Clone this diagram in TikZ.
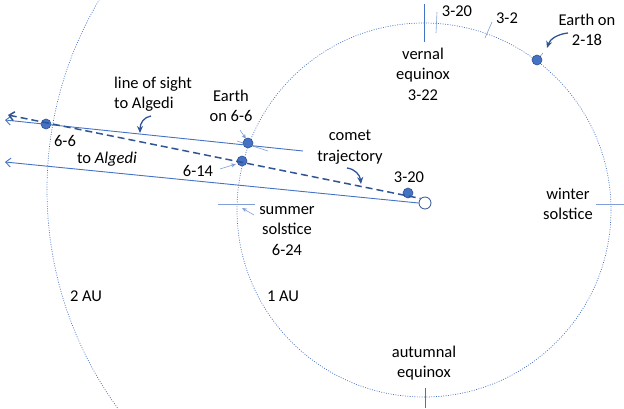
\documentclass[tikz,border=0pt]{standalone}
\usepackage{fontspec}
\setmainfont{Carlito}
\usetikzlibrary{arrows.meta}
\definecolor{mblue}{HTML}{4472C4}
\definecolor{dblue}{HTML}{2F5597}
\definecolor{lblue}{HTML}{7F9FD6}
\definecolor{dotedge}{HTML}{2F528F}
\begin{document}
\begin{tikzpicture}[x=1pt,y=-1pt,
 lbl/.style={font=\fontsize{16.5}{20.5}\selectfont, align=center, inner sep=0pt, text=black},
 orbit/.style={mblue, line width=0.7pt, dash pattern=on 0.9pt off 1.5pt},
 body/.style={circle, fill=mblue, draw=dotedge, line width=0.6pt, minimum size=10pt, inner sep=0pt},
 sunbody/.style={circle, fill=white, draw=dotedge, line width=0.8pt, minimum size=12pt, inner sep=0pt},
 sight/.style={mblue, line width=0.9pt},
 cometline/.style={dblue, line width=1.5pt, dash pattern=on 7pt off 4pt},
 faint/.style={lblue, line width=0.6pt},
 marktick/.style={mblue, line width=0.9pt},
 pointer/.style={lblue, line width=0.6pt, -{Stealth[length=5pt,width=4pt]}},
 curvy/.style={dblue, line width=1.3pt, -{Stealth[length=7pt,width=6pt]}},
 barb/.style={{Straight Barb[length=5pt,width=9pt]}-},
 ]
\useasboundingbox (0,0) rectangle (624,408);
\clip (0,0) rectangle (624,408);
% orbits
\draw[orbit] (424,210) circle[radius=187];
\draw[orbit] (419,190) circle[radius=372];
% ticks
\draw[marktick] (424,4) -- (424,42);
\draw[marktick] (425,388) -- (425,408);
\draw[faint] (218,204) -- (255,204);
\draw[faint] (596,204) -- (624,204);
\draw[faint] (437,12) -- (436,33);
\draw[faint] (492,22) -- (485,38);
\draw[faint] (237,141) -- (268,151);
\draw[faint] (537,60) -- (543,53);
% bodies
\node[sunbody] (sun) at (425,203) {};
\node[body] (e66) at (46,124) {};
\node[body] (earth66) at (248,143) {};
\node[body] (e614) at (242,161) {};
\node[body] (c320) at (408,193) {};
\node[body] (earth218) at (537,60) {};
\coordinate (losA) at (5,120);
\coordinate (losB) at (303,151);
\coordinate (cometA) at (8,115);
\coordinate (algA) at (5,162);
% lines
\draw[sight,barb] (losA) -- (losB);
\draw[sight,barb] (algA) -- (sun.west);
\draw[cometline,barb] (cometA) -- (sun.north west);
% labels
\node[lbl, align=left, anchor=west] (los) at (114,94) {line of sight\\to Algedi};
\node[lbl] (le66) at (231,106) {Earth\\on 6-6};
\node[lbl] (lcomet) at (350,147) {comet\\trajectory};
\node[lbl] (l66) at (65,141) {6-6};
\node[lbl] (lalg) at (107,159) {to \textit{Algedi}};
\node[lbl] (l614) at (198,171) {6-14};
\node[lbl] (l320c) at (409,177) {3-20};
\node[lbl] (lsum) at (287,231) {summer\\solstice\\6-24};
\node[lbl] (l2au) at (86,296) {2 AU};
\node[lbl] (l1au) at (283,296) {1 AU};
\node[lbl] (lvern) at (423,74) {vernal\\equinox\\3-22};
\node[lbl] (l320t) at (457,11) {3-20};
\node[lbl] (l32) at (507,18) {3-2};
\node[lbl] (l218) at (587,30) {Earth on\\2-18};
\node[lbl] (lwin) at (568,204) {winter\\solstice};
\node[lbl] (laut) at (424,363) {autumnal\\equinox};
% pointers
\coordinate (p1a) at (240,130); \coordinate (p1b) at (246,139);
\draw[pointer] (p1a) -- (p1b);
\coordinate (p2a) at (220,169); \coordinate (p2b) at (236,164);
\draw[pointer] (p2a) -- (p2b);
\coordinate (p3a) at (254,215); \coordinate (p3b) at (242,208);
\draw[pointer] (p3a) -- (p3b);
% curved arrows
\coordinate (c1a) at (151,116); \coordinate (c1b) at (140,133);
\draw[curvy] (c1a) .. controls (144,117) and (140,123) .. (c1b);
\coordinate (c2a) at (347,168); \coordinate (c2b) at (361,184);
\draw[curvy] (c2a) .. controls (355,169) and (360,175) .. (c2b);
\coordinate (c3a) at (568,33); \coordinate (c3b) at (547,48);
\draw[curvy] (c3a) .. controls (558,34) and (550,39) .. (c3b);
\end{tikzpicture}
\end{document}
